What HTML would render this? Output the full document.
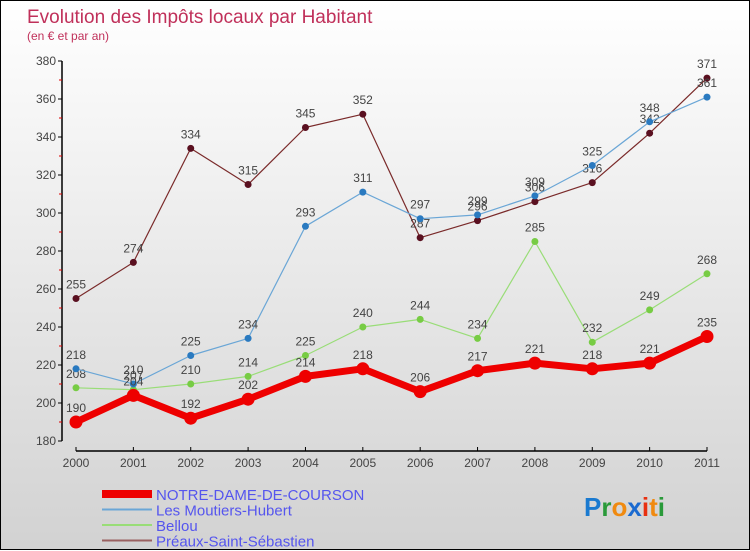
<!DOCTYPE html>
<html><head><meta charset="utf-8"><style>
html,body{margin:0;padding:0}
body{width:750px;height:550px;overflow:hidden;font-family:"Liberation Sans",sans-serif}
#wrap{position:relative;width:748px;height:548px;border:1px solid #000;background:linear-gradient(#ffffff,#d2d2d2)}
svg{position:absolute;left:0;top:0}
</style></head><body>
<div id="wrap">
<svg id="chart" width="750" height="550"></svg>
</div>
<script>
const years=["2000","2001","2002","2003","2004","2005","2006","2007","2008","2009","2010","2011"];
const ndc=[190,204,192,202,214,218,206,217,221,218,221,235];
const moutiers=[218,210,225,234,293,311,297,299,309,325,348,361];
const bellou=[208,207,210,214,225,240,244,234,285,232,249,268];
const preaux=[255,274,334,315,345,352,287,296,306,316,342,371];
const yTicks=[180,200,220,240,260,280,300,320,340,360,380];
const seriesNames=["NOTRE-DAME-DE-COURSON","Les Moutiers-Hubert","Bellou","Préaux-Saint-Sébastien"];

const svg=document.getElementById('chart');
const NS='http://www.w3.org/2000/svg';
function x(i){return 75+i*(706-75)/(years.length-1);}
function y(v){return 440-(v-180)*1.9;}
function mk(tag,attrs,parent){const e=document.createElementNS(NS,tag);for(const k in attrs)e.setAttribute(k,attrs[k]);(parent||svg).appendChild(e);return e;}
const txtStyle={'font-family':'Liberation Sans, sans-serif','fill':'#444'};

let t=mk('text',{x:26,y:22,'font-size':19,fill:'#c0305a','font-family':'Liberation Sans, sans-serif'});
t.textContent='Evolution des Impôts locaux par Habitant';


t=mk('text',{x:26,y:39,'font-size':12,fill:'#c0305a','font-family':'Liberation Sans, sans-serif'});
t.textContent='(en € et par an)';



// y axis
let a=mk('line',{x1:61,y1:60,x2:61,y2:440,stroke:'#000','stroke-width':1.5});


yTicks.forEach((v,i)=>{
  mk('line',{x1:57,y1:y(v),x2:61,y2:y(v),stroke:'#000'});
  if(i<yTicks.length-1)mk('line',{x1:58,y1:y(v+10),x2:61,y2:y(v+10),stroke:'#d00'});
  const l=mk('text',{x:55,y:y(v)+4,'font-size':12,'text-anchor':'end',...txtStyle});
  l.textContent=v;
  
  
});
a=mk('line',{x1:x(0),y1:450,x2:x(years.length-1),y2:450,stroke:'#000','stroke-width':1.5});


years.forEach((yr,i)=>{
  mk('line',{x1:x(i),y1:446,x2:x(i),y2:450,stroke:'#000'});
  const l=mk('text',{x:x(i),y:466,'font-size':12,'text-anchor':'middle',...txtStyle});
  l.textContent=yr;
  
  
});

function drawSeries(data,color,dot,w,r,name){
  const g=mk('g',{});
  
  
  mk('polyline',{points:data.map((v,i)=>x(i)+','+y(v)).join(' '),fill:'none',stroke:color,'stroke-width':w,'stroke-linejoin':'round'},g);
  data.forEach((v,i)=>{
    const c=mk('circle',{cx:x(i),cy:y(v),r:r,fill:dot},g);
    
    
    const l=mk('text',{x:x(i),y:y(v)-10,'font-size':12,'text-anchor':'middle',...txtStyle},g);
    l.textContent=v;
    
    
  });
}
drawSeries(preaux,'#7a2a2a','#5a1020',1.2,3.5,'series-preaux');
drawSeries(bellou,'#99dd77','#77cc44',1.2,3.5,'series-bellou');
drawSeries(moutiers,'#6aa6d6','#2a7ac0',1.2,3.5,'series-moutiers');
drawSeries(ndc,'#ee0000','#ee0000',7,6.5,'series-notre-dame');

const colors=['#ee0000','#6aa6d6','#99dd77','#9a6060'];
const widths=[8,2,2,2];
seriesNames.forEach((n,i)=>{
  const yy=493+i*15.5;
  const g=mk('g',{});
  
  
  mk('line',{x1:101,y1:yy,x2:151,y2:yy,stroke:colors[i],'stroke-width':widths[i]},g);
  const l=mk('text',{x:155,y:yy+6,'font-size':15,fill:'#5555ee','font-family':'Liberation Sans, sans-serif'},g);
  l.textContent=n;
});

const logo=mk('text',{x:583,y:515,'font-size':26,'font-weight':'bold','font-family':'Liberation Sans, sans-serif'});


[['P','#1a7ad0'],['r','#2a9a3a'],['o','#f08a10'],['x','#1a6ad0'],['i','#e83010'],['t','#f08a10'],['i','#2a9a3a']].forEach(([c,col])=>{
  const s=mk('tspan',{fill:col},logo);s.textContent=c;
});
</script>
</body></html>
